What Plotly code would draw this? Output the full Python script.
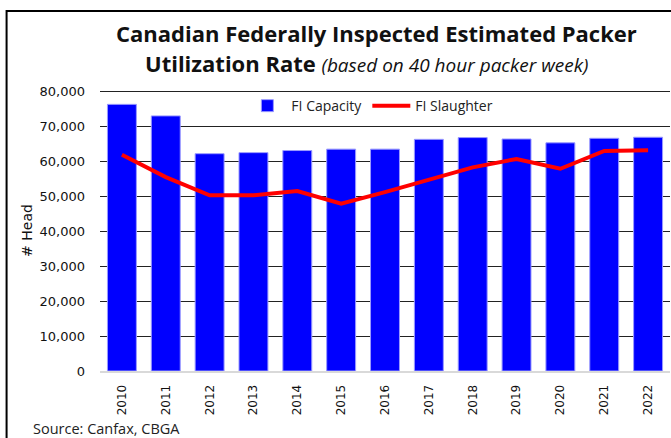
import plotly.graph_objects as go

# Annual federally inspected packer figures (head per 40-hour week)
years = ["2010", "2011", "2012", "2013", "2014", "2015", "2016",
         "2017", "2018", "2019", "2020", "2021", "2022"]
fi_capacity = [76200, 72900, 62100, 62400, 63000, 63400, 63400,
               66200, 66700, 66300, 65200, 66500, 66800]
fi_slaughter = [61800, 55400, 50200, 50200, 51400, 47800, 51100,
                54600, 58200, 60600, 57800, 62900, 63100]
y_ticks = [0, 10000, 20000, 30000, 40000, 50000, 60000, 70000, 80000]
y_top = 80300  # a little headroom so the 80,000 gridline is drawn

W, H = 671, 438
L, R, B = 99.5, 1, 67
T = 91 - (y_top - 80000) * 280 / 80000
plot_w = W - L - R
plot_h = H - T - B

FONT = "Open Sans"


def px_x(px):
    return (px - L) / plot_w


def px_y(py):
    return (H - B - py) / plot_h


fig = go.Figure()
fig.add_trace(go.Bar(
    x=years, y=fi_capacity, name="FI Capacity",
    marker=dict(color="#0000FF", line=dict(color="#9a9aff", width=1)),
))
fig.add_trace(go.Scatter(
    x=years, y=fi_slaughter, name="FI Slaughter", mode="lines",
    line=dict(color="#FF0000", width=4),
))

fig.update_layout(
    width=W, height=H,
    margin=dict(l=L, r=R, t=T, b=B),
    paper_bgcolor="white", plot_bgcolor="white",
    bargap=0.34,
    showlegend=True,
    legend=dict(
        orientation="h", x=px_x(243), xanchor="left",
        y=px_y(106), yanchor="middle",
        font=dict(family=FONT, size=14, color="#222"),
        itemwidth=38, bgcolor="rgba(0,0,0,0)",
    ),
    xaxis=dict(
        type="category", tickangle=-90,
        tickfont=dict(family="DejaVu Sans", size=12, color="#111"),
        showline=True, linecolor="#d9d9d9", linewidth=2,
        showgrid=False, ticks="", ticklabelstandoff=7,
    ),
    yaxis=dict(
        range=[0, y_top], tickvals=y_ticks, tickformat=",d",
        tickfont=dict(family="DejaVu Sans", size=13, color="#111"),
        showgrid=True, gridcolor="#222", gridwidth=1,
        zeroline=False, ticks="", ticklabelstandoff=14,
        title=dict(text="# Head", standoff=3,
                   font=dict(family="DejaVu Sans", size=14, color="#111")),
    ),
    annotations=[
        dict(text="<b>Canadian Federally Inspected Estimated Packer</b>",
             xref="paper", yref="paper", x=px_x(376), y=px_y(33),
             xanchor="center", yanchor="middle", showarrow=False,
             font=dict(family=FONT, size=22, color="#111")),
        dict(text="<b>Utilization Rate</b> <i><span style='font-size:19px'>(based on 40 hour packer week)</span></i>",
             xref="paper", yref="paper", x=px_x(366), y=px_y(63),
             xanchor="center", yanchor="middle", showarrow=False,
             font=dict(family=FONT, size=22, color="#111")),
        dict(text="Source: Canfax, CBGA",
             xref="paper", yref="paper", x=px_x(30), y=px_y(429),
             xanchor="left", yanchor="middle", showarrow=False,
             font=dict(family=FONT, size=14.5, color="#222")),
    ],
    shapes=[
        dict(type="rect", xref="paper", yref="paper",
             x0=px_x(6), x1=px_x(W + 20), y0=px_y(H + 20), y1=px_y(11),
             line=dict(color="black", width=2), fillcolor="rgba(0,0,0,0)",
             layer="above"),
    ],
)

fig.write_html("out.html")
